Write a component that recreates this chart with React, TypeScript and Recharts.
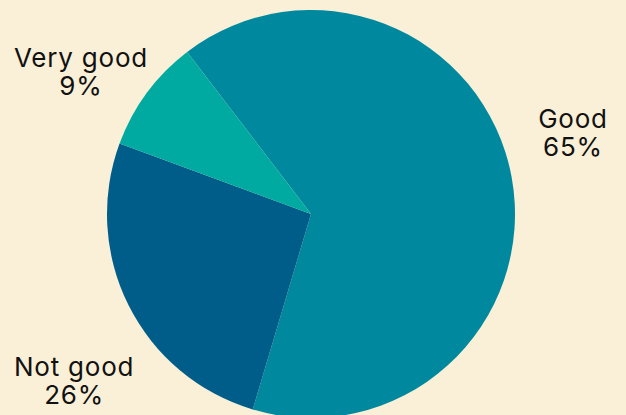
import React from 'react';
import { PieChart, Pie, Cell } from 'recharts';

const categories = ['Good', 'Not good', 'Very good'];
const shares = [65, 26, 9];
const COLORS = ['#00899E', '#005C89', '#00AAA0'];

// small hand nudges so labels sit where the original put them
const LABEL_NUDGE: Record<string, [number, number]> = {
  Good: [-4, -1],
  'Not good': [-4, 14],
  'Very good': [11, -4],
};

const data = categories.map((name, i) => ({ name, value: shares[i] }));

const RADIAN = Math.PI / 180;

const renderLabel = (props: any) => {
  const { cx, cy, midAngle, outerRadius, payload } = props;
  const angle = (midAngle + 6.5) * RADIAN;
  const r = outerRadius + 74;
  const [nx, ny] = LABEL_NUDGE[payload.name] || [0, 0];
  const x = cx + r * Math.cos(angle) + nx;
  const y = cy - r * Math.sin(angle) + ny;
  return (
    <text x={x} y={y} textAnchor="middle" fill="#111" fontSize={26} letterSpacing={0.8} fontFamily="Inter, 'Noto Sans', sans-serif">
      <tspan x={x} dy={-4}>{payload.name}</tspan>
      <tspan x={x} dy={28}>{`${payload.value}%`}</tspan>
    </text>
  );
};

export default function App() {
  return (
    <div style={{ position: 'absolute', top: 0, left: 0, width: 626, height: 415, background: '#FAF0D7', overflow: 'hidden' }}>
      <PieChart width={626} height={415} margin={{ top: 0, right: 0, bottom: 0, left: 0 }}>
        <Pie
          data={data}
          dataKey="value"
          nameKey="name"
          cx={311}
          cy={214}
          outerRadius={204}
          startAngle={127.4}
          endAngle={-232.6}
          stroke="none"
          label={renderLabel}
          labelLine={false}
          isAnimationActive={false}
        >
          {data.map((entry, index) => (
            <Cell key={`cell-${index}`} fill={COLORS[index]} />
          ))}
        </Pie>
      </PieChart>
    </div>
  );
}
